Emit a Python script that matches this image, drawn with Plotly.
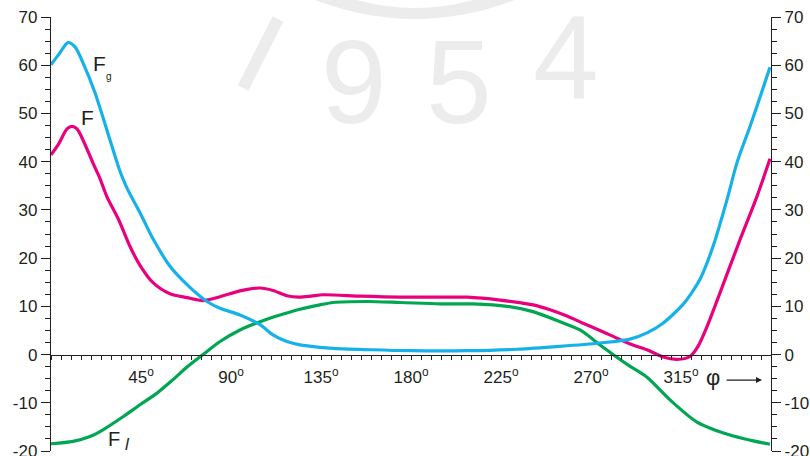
import plotly.graph_objects as go

# ---- data ----
phi_Fg = [0, 4, 8.5, 12, 16, 22, 29.5, 34.5, 38, 45, 51, 59.5, 68, 78, 84.5, 94.5, 104.5, 111, 118, 124.5,
          134.5, 141, 160, 180, 208, 233, 254.5, 274.5, 289.5, 298, 306, 311, 316, 320, 324.5, 331, 338, 343,
          349.5, 355, 359.5]
Fg = [60.1, 62.3, 64.7, 63.8, 60.5, 54.3, 44.5, 38, 34.5, 29, 24, 18.3, 14.5, 11, 9.6, 8.2, 6.2, 4.1, 2.7, 2.0,
      1.5, 1.3, 1.0, 0.8, 0.8, 1.1, 1.7, 2.4, 3.2, 4.5, 6.5, 8.3, 10.4, 12.6, 15.6, 22.4, 32.1, 39.8,
      47.3, 54, 59.6]

phi_F = [0, 4, 8, 10.5, 13, 16, 21, 24.5, 28, 34, 39.5, 44.5, 51, 59.5, 68, 76, 84.5, 94.5, 104.5, 111, 118,
         124, 130, 136, 155, 174.5, 195, 208, 224.5, 241, 249.5, 258, 266, 275, 283, 291, 298, 306, 313, 319.5,
         323.5, 328, 334.5, 344.5, 353, 359.5]
F = [41.4, 43.8, 46.8, 47.3, 46.8, 44.5, 39.7, 36.5, 32.7, 27.8, 22.4, 18.5, 14.9, 12.6, 11.8, 11.2, 12, 13.2,
     13.8, 13.3, 12.2, 11.9, 12.1, 12.4, 12.1, 11.9, 11.9, 11.9, 11.3, 10.3, 9.3, 8.0, 6.5, 4.9, 3.4, 2.0, 1.0,
     -0.5, -1, -0.4, 1.7, 5.8, 12.8, 23.8, 32.8, 40.6]

phi_Fl = [0, 11, 19.5, 26, 36, 44.5, 53, 61, 68, 76, 84.5, 94.5, 104.5, 114.5, 124.5, 134.5, 141, 158, 174.5,
          194.5, 211, 228, 241, 254.5, 264.5, 274.5, 281, 289, 298, 309.5, 323, 339.5, 350, 359.5]
Fl = [-18.5, -18, -17, -15.6, -12.9, -10.4, -8, -5.2, -2.6, 0, 2.7, 5.1, 6.8, 8.2, 9.4, 10.3, 10.8, 11, 10.8,
      10.5, 10.5, 10, 8.9, 6.8, 5.1, 2, 0, -2.3, -4.7, -9.4, -14, -16.7, -17.8, -18.6]

x_tickvals = [45, 90, 135, 180, 225, 270, 315]
x_ticktext = ["45<sup>o</sup>", "90<sup>o</sup>", "135<sup>o</sup>", "180<sup>o</sup>",
              "225<sup>o</sup>", "270<sup>o</sup>", "315<sup>o</sup>"]
y_tickvals = [-20, -10, 0, 10, 20, 30, 40, 50, 60, 70]
y_ticktext = ["-20", "-10", "0", "10", "20", "30", "40", "50", "60", "70"]
y_range = [-20, 70]

BLUE = "#16b1e9"
MAGENTA = "#e8007f"
GREEN = "#00a651"
INK = "#231f20"
WM = "#ececec"
FONT = "Liberation Sans, Arial, Helvetica, sans-serif"
FS = 17

fig = go.Figure()
fig.add_trace(go.Scatter(x=phi_Fl, y=Fl, mode="lines", line=dict(color=GREEN, width=3.2, shape="spline", smoothing=0.8)))
fig.add_trace(go.Scatter(x=phi_F, y=F, mode="lines", line=dict(color=MAGENTA, width=3.2, shape="spline", smoothing=0.8)))
fig.add_trace(go.Scatter(x=phi_Fg, y=Fg, mode="lines", line=dict(color=BLUE, width=3.2, shape="spline", smoothing=0.8)))

L, R, T, B = 51, 39, 17, 5
W, H = 810, 456
pw, ph = W - L - R, H - T - B


def px(x):
    return (x - L) / pw


def py(y):
    return (H - B - y) / ph


axis_common = dict(
    range=y_range, showgrid=False, zeroline=False,
    showline=True, linecolor=INK, linewidth=1.3,
    tickmode="array", tickvals=y_tickvals, ticktext=y_ticktext,
    ticks="outside", ticklen=9, tickcolor=INK, tickwidth=1,
    minor=dict(tickmode="linear", tick0=0, dtick=2.5, ticks="outside", ticklen=5, tickcolor=INK, tickwidth=1),
    tickfont=dict(size=FS, color=INK, family=FONT),
    ticklabeloverflow="allow",
)

fig.update_layout(
    width=W, height=H,
    margin=dict(l=L, r=R, t=T, b=B, pad=0, autoexpand=False),
    paper_bgcolor="white", plot_bgcolor="white",
    showlegend=False,
    font=dict(family=FONT, size=FS, color=INK),
    xaxis=dict(
        range=[0, 360], showgrid=False, zeroline=False,
        anchor="free", position=(0 - y_range[0]) / (y_range[1] - y_range[0]),
        showline=True, linecolor=INK, linewidth=1.3,
        tickmode="array", tickvals=x_tickvals, ticktext=x_ticktext,
        ticks="outside", ticklen=4, tickcolor=INK, tickwidth=1,
        minor=dict(tickmode="linear", tick0=0, dtick=5, ticks="outside", ticklen=4, tickcolor=INK, tickwidth=1),
        tickfont=dict(size=FS, color=INK, family=FONT),
        ticklabelstandoff=3,
    ),
    yaxis=dict(axis_common),
    yaxis2=dict(axis_common, overlaying="y", side="right", anchor="x"),
)
# invisible trace so the right axis is drawn
fig.add_trace(go.Scatter(x=[0], y=[0], yaxis="y2", mode="markers", marker=dict(opacity=0), hoverinfo="skip"))

# ---- watermark ----
shapes = [
    dict(type="line", xref="paper", yref="paper", x0=px(278), y0=py(19), x1=px(243), y1=py(88),
         line=dict(color=WM, width=12), layer="below"),
    dict(type="path", xref="paper", yref="paper", layer="below", fillcolor=WM, line=dict(width=0),
         path=(f"M {px(310)},{py(-2)} Q {px(415)},{py(40)} {px(520)},{py(-2)} "
               f"L {px(480)},{py(-2)} Q {px(415)},{py(18)} {px(350)},{py(-2)} Z")),
]
fig.update_layout(shapes=shapes)

ann = []
for ch, cx, cy in [("9", 353.5, 82), ("5", 458.5, 82), ("4", 565.5, 58)]:
    ann.append(dict(text=ch, xref="paper", yref="paper", x=px(cx), y=py(cy), showarrow=False,
                    xanchor="center", yanchor="middle", font=dict(size=118, color=WM, family=FONT)))

# ---- curve labels ----
ann += [
    dict(text="F", x=24, y=60.3, showarrow=False, xanchor="center", yanchor="middle",
         font=dict(size=21, color=INK, family=FONT)),
    dict(text="g", x=28.8, y=57.6, showarrow=False, xanchor="center", yanchor="middle",
         font=dict(size=10, color=INK, family=FONT)),
    dict(text="F", x=18, y=49.2, showarrow=False, xanchor="center", yanchor="middle",
         font=dict(size=21, color=INK, family=FONT)),
    dict(text="F", x=31.5, y=-17.5, showarrow=False, xanchor="center", yanchor="middle",
         font=dict(size=20, color=INK, family=FONT)),
    dict(text="<i>l</i>", x=38, y=-18.6, showarrow=False, xanchor="center", yanchor="middle",
         font=dict(size=17, color=INK, family=FONT)),
    dict(text="φ", x=331.2, y=-4.7, showarrow=False, xanchor="center", yanchor="middle",
         font=dict(size=22, color=INK, family=FONT)),
    dict(text="", x=355.5, y=-5.3, ax=337, ay=-5.3, axref="x", ayref="y", showarrow=True,
         arrowhead=2, arrowsize=1, arrowwidth=1.2, arrowcolor=INK),
]
fig.update_layout(annotations=ann)

fig.write_html("out.html", config={"displayModeBar": False},
               post_script="document.body.style.margin='0';document.body.style.overflow='hidden';")
